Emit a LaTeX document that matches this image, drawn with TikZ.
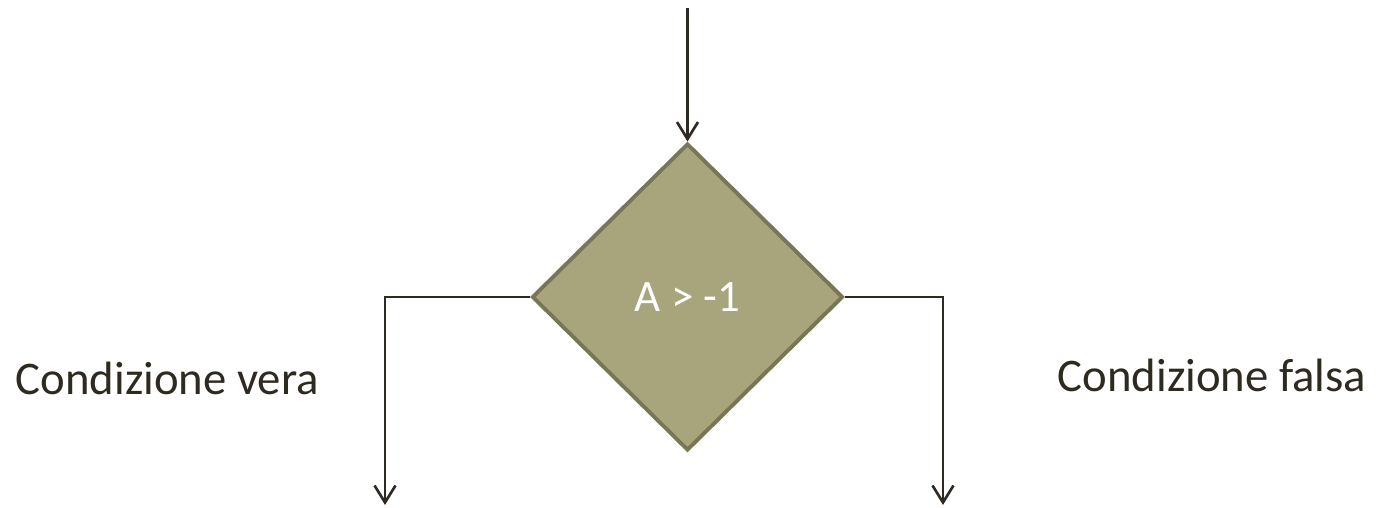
\documentclass[tikz,border=0pt]{standalone}
\usepackage{fontspec}
\setmainfont{Carlito}
\usetikzlibrary{arrows.meta,shapes.geometric}
\definecolor{flink}{HTML}{2E2A21}
\definecolor{flolive}{HTML}{A8A47C}
\definecolor{flrim}{HTML}{787656}
\tikzset{
  fl text/.style={text=flink},
  fl decision/.style={diamond, draw=flrim, line width=1.1pt, fill=flolive,
    minimum width=31.1mm, minimum height=30.7mm, inner sep=0pt,
    text=white, font=\fontsize{12.8}{15}\selectfont},
  fl arrow/.style={-{Straight Barb[length=1.7mm,width=2.1mm]}, line width=0.75pt,
    draw=flink},
  fl label/.style={font=\fontsize{13.3}{16}\selectfont, text=flink, inner sep=0pt}
}
\begin{document}
\begin{tikzpicture}[fl text, x=1cm, y=1cm]
  \useasboundingbox (0,0) rectangle (13.76,5.08);
  \node[fl decision] (cond) at (6.875,2.11) {A > -1};
  \coordinate (start) at (6.875,5.00);
  \coordinate (trueend) at (3.85,0.03);
  \coordinate (falseend) at (9.43,0.03);
  \draw[fl arrow] (start) -- (cond.north);
  \draw[fl arrow] (cond.west) -| (trueend);
  \draw[fl arrow] (cond.east) -| (falseend);
  \node[fl label, anchor=base west] (truelbl) at (0.15,1.13) {Condizione vera};
  \node[fl label, anchor=base west] (falselbl) at (10.57,1.16) {Condizione falsa};
\end{tikzpicture}
\end{document}
